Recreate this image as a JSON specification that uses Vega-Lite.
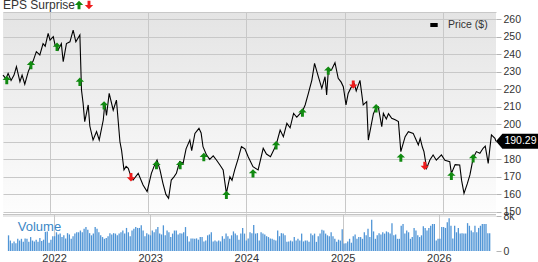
{
"$schema":"https://vega.github.io/schema/vega-lite/v6.json",
"padding":{"left":0,"top":0,"right":0,"bottom":0},
"background":"white",
"spacing":1,
"bounds":"flush",
"config":{"font":"Liberation Sans","view":{"stroke":null},
 "axis":{"labelFont":"Liberation Sans","labelColor":"#333333","labelFontSize":10.5,"gridColor":"#c8c8c8","tickColor":"#b4b4b4","title":null},
 "legend":{"labelFont":"Liberation Sans","titleFont":"Liberation Sans"}},
"resolve":{"scale":{"x":"independent","y":"independent"}},
"datasets":{
"price":[
{"d":"2021-07-10","p":228},{"d":"2021-07-21","p":226},{"d":"2021-07-29","p":229},{"d":"2021-08-09","p":225},{"d":"2021-08-20","p":228},{"d":"2021-08-29","p":232.8},{"d":"2021-09-11","p":224.3},{"d":"2021-09-19","p":228},{"d":"2021-09-29","p":222.8},{"d":"2021-10-12","p":230},{"d":"2021-10-22","p":233.8},{"d":"2021-10-30","p":236},{"d":"2021-11-11","p":241.4},{"d":"2021-11-24","p":239.5},{"d":"2021-12-06","p":246},{"d":"2021-12-14","p":244.5},{"d":"2021-12-25","p":251.8},
{"d":"2022-01-01","p":248},{"d":"2022-01-13","p":249.9},{"d":"2022-01-20","p":245},{"d":"2022-01-27","p":244.2},{"d":"2022-01-31","p":242.3},{"d":"2022-02-12","p":246},{"d":"2022-02-19","p":235.7},{"d":"2022-03-03","p":246},{"d":"2022-03-16","p":247},{"d":"2022-03-28","p":253.7},{"d":"2022-04-07","p":247},{"d":"2022-04-22","p":250.9},{"d":"2022-04-28","p":219.5},{"d":"2022-05-04","p":212},{"d":"2022-05-10","p":201.5},{"d":"2022-05-23","p":211},{"d":"2022-05-29","p":199},{"d":"2022-06-10","p":191},{"d":"2022-06-23","p":195.8},{"d":"2022-07-03","p":191},{"d":"2022-07-18","p":202.4},{"d":"2022-07-24","p":212},{"d":"2022-07-30","p":205},{"d":"2022-08-09","p":217.6},{"d":"2022-08-24","p":208},{"d":"2022-09-05","p":213.8},{"d":"2022-09-18","p":190},{"d":"2022-09-24","p":185.3},{"d":"2022-10-03","p":174},{"d":"2022-10-11","p":176},{"d":"2022-10-19","p":174.9},{"d":"2022-10-25","p":172},{"d":"2022-11-06","p":168.2},{"d":"2022-11-25","p":172},{"d":"2022-12-13","p":165.4},{"d":"2022-12-28","p":161.6},
{"d":"2023-01-13","p":172},{"d":"2023-01-23","p":176},{"d":"2023-02-03","p":179.6},{"d":"2023-02-14","p":174},{"d":"2023-02-25","p":166.3},{"d":"2023-03-08","p":160},{"d":"2023-03-18","p":157.8},{"d":"2023-03-28","p":168.2},{"d":"2023-04-07","p":170},{"d":"2023-04-16","p":172},{"d":"2023-04-28","p":178.7},{"d":"2023-05-11","p":177.7},{"d":"2023-05-22","p":186},{"d":"2023-06-05","p":191},{"d":"2023-06-12","p":185},{"d":"2023-06-24","p":194.8},{"d":"2023-07-09","p":197.7},{"d":"2023-07-17","p":195},{"d":"2023-07-24","p":187.2},{"d":"2023-08-06","p":182.5},{"d":"2023-08-18","p":180},{"d":"2023-08-31","p":182},{"d":"2023-09-12","p":179.6},{"d":"2023-09-25","p":176.8},{"d":"2023-10-07","p":174},{"d":"2023-10-19","p":160.6},{"d":"2023-11-01","p":170.1},{"d":"2023-11-09","p":168},{"d":"2023-11-19","p":174},{"d":"2023-12-01","p":180},{"d":"2023-12-14","p":187.2},{"d":"2023-12-27","p":186},
{"d":"2024-01-08","p":181.5},{"d":"2024-01-26","p":175.8},{"d":"2024-02-14","p":174},{"d":"2024-03-04","p":186.3},{"d":"2024-03-16","p":183},{"d":"2024-03-31","p":181.5},{"d":"2024-04-21","p":188.2},{"d":"2024-05-06","p":196.7},{"d":"2024-05-18","p":192.9},{"d":"2024-05-31","p":200.5},{"d":"2024-06-12","p":198},{"d":"2024-06-25","p":206.2},{"d":"2024-07-07","p":204},{"d":"2024-07-19","p":206},{"d":"2024-07-28","p":207.5},{"d":"2024-08-07","p":211},{"d":"2024-08-19","p":217.6},{"d":"2024-09-01","p":225.2},{"d":"2024-09-11","p":234.7},{"d":"2024-09-25","p":227.1},{"d":"2024-10-08","p":220.5},{"d":"2024-10-20","p":227.1},{"d":"2024-10-26","p":216.7},{"d":"2024-11-01","p":230},{"d":"2024-11-13","p":231},{"d":"2024-11-26","p":235.1},{"d":"2024-12-08","p":226.2},{"d":"2024-12-19","p":224},{"d":"2024-12-27","p":221.4},
{"d":"2025-01-06","p":211},{"d":"2025-01-14","p":217.6},{"d":"2025-01-25","p":221},{"d":"2025-02-06","p":223},{"d":"2025-02-13","p":219},{"d":"2025-02-27","p":225},{"d":"2025-03-11","p":211},{"d":"2025-03-24","p":212.9},{"d":"2025-03-30","p":191},{"d":"2025-04-11","p":200.5},{"d":"2025-04-18","p":206},{"d":"2025-04-28","p":209.5},{"d":"2025-05-06","p":210},{"d":"2025-05-19","p":198.6},{"d":"2025-05-25","p":206.2},{"d":"2025-06-05","p":203},{"d":"2025-06-13","p":206},{"d":"2025-06-25","p":203.4},{"d":"2025-07-08","p":202.5},{"d":"2025-07-20","p":201.5},{"d":"2025-07-29","p":184.4},{"d":"2025-08-14","p":192.9},{"d":"2025-08-26","p":195.8},{"d":"2025-09-13","p":194.8},{"d":"2025-09-24","p":191},{"d":"2025-10-02","p":188.2},{"d":"2025-10-09","p":192},{"d":"2025-10-17","p":187},{"d":"2025-10-23","p":184.4},{"d":"2025-11-02","p":174.9},{"d":"2025-11-14","p":179.6},{"d":"2025-11-26","p":182.5},{"d":"2025-12-08","p":179.5},{"d":"2025-12-27","p":182.5},
{"d":"2026-01-09","p":179.5},{"d":"2026-01-27","p":178.7},{"d":"2026-02-02","p":172},{"d":"2026-02-16","p":177},{"d":"2026-03-05","p":176.8},{"d":"2026-03-12","p":168},{"d":"2026-03-21","p":160.6},{"d":"2026-04-02","p":166},{"d":"2026-04-12","p":171.1},{"d":"2026-04-24","p":180.6},{"d":"2026-05-06","p":184.4},{"d":"2026-05-19","p":183.5},{"d":"2026-05-31","p":186.3},{"d":"2026-06-08","p":187.5},{"d":"2026-06-19","p":177.7},{"d":"2026-06-25","p":186},{"d":"2026-07-01","p":193.9},{"d":"2026-07-14","p":192},{"d":"2026-07-18","p":190.29}
],
"eps":[
{"d":"2021-07-24","p":225.2,"r":"beat"},{"d":"2021-10-22","p":233.8,"r":"beat"},{"d":"2022-01-27","p":244.2,"r":"beat"},{"d":"2022-04-22","p":224.2,"r":"beat"},{"d":"2022-07-21","p":210.8,"r":"beat"},{"d":"2022-10-29","p":169.8,"r":"miss"},{"d":"2023-02-01","p":176.8,"r":"beat"},{"d":"2023-04-30","p":176.8,"r":"beat"},{"d":"2023-07-27","p":181.3,"r":"beat"},{"d":"2023-10-19","p":159.7,"r":"beat"},{"d":"2024-01-26","p":172,"r":"beat"},{"d":"2024-04-21","p":188,"r":"beat"},{"d":"2024-07-28","p":206.7,"r":"beat"},{"d":"2024-11-01","p":230.6,"r":"beat"},{"d":"2025-02-02","p":222.6,"r":"miss"},{"d":"2025-04-28","p":209.1,"r":"beat"},{"d":"2025-07-29","p":181,"r":"beat"},{"d":"2025-10-26","p":176.3,"r":"miss"},{"d":"2026-02-02","p":170.6,"r":"beat"},{"d":"2026-04-24","p":180.6,"r":"beat"}
],
"vol":[
{"d":"2021-07-12","v":3600},{"d":"2021-07-19","v":2400},{"d":"2021-07-26","v":1800},{"d":"2021-08-02","v":2200},{"d":"2021-08-09","v":1800},{"d":"2021-08-16","v":2800},{"d":"2021-08-23","v":2400},{"d":"2021-08-30","v":2800},{"d":"2021-09-06","v":2100},{"d":"2021-09-13","v":2900},{"d":"2021-09-20","v":2800},{"d":"2021-09-27","v":2100},{"d":"2021-10-04","v":3200},{"d":"2021-10-11","v":2400},{"d":"2021-10-18","v":2200},{"d":"2021-10-25","v":2600},{"d":"2021-11-01","v":2100},{"d":"2021-11-08","v":3000},{"d":"2021-11-15","v":2300},{"d":"2021-11-22","v":2600},{"d":"2021-11-29","v":4400},{"d":"2021-12-06","v":4500},{"d":"2021-12-13","v":1900},{"d":"2021-12-20","v":2600},{"d":"2021-12-27","v":3400},
{"d":"2022-01-03","v":3400},{"d":"2022-01-10","v":4300},{"d":"2022-01-17","v":3800},{"d":"2022-01-24","v":4000},{"d":"2022-01-31","v":3200},{"d":"2022-02-07","v":3600},{"d":"2022-02-14","v":2900},{"d":"2022-02-21","v":4100},{"d":"2022-02-28","v":3800},{"d":"2022-03-07","v":2800},{"d":"2022-03-14","v":3400},{"d":"2022-03-21","v":4000},{"d":"2022-03-28","v":4300},{"d":"2022-04-04","v":4300},{"d":"2022-04-11","v":4700},{"d":"2022-04-18","v":4300},{"d":"2022-04-25","v":5100},{"d":"2022-05-02","v":5500},{"d":"2022-05-09","v":4900},{"d":"2022-05-16","v":4100},{"d":"2022-05-23","v":3600},{"d":"2022-05-30","v":4000},{"d":"2022-06-06","v":5500},{"d":"2022-06-13","v":5100},{"d":"2022-06-20","v":4300},{"d":"2022-06-27","v":3600},{"d":"2022-07-04","v":3200},{"d":"2022-07-11","v":2800},{"d":"2022-07-18","v":3000},{"d":"2022-07-25","v":3400},{"d":"2022-08-01","v":4100},{"d":"2022-08-08","v":3800},{"d":"2022-08-15","v":4100},{"d":"2022-08-22","v":4000},{"d":"2022-08-29","v":3600},{"d":"2022-09-05","v":4000},{"d":"2022-09-12","v":4300},{"d":"2022-09-19","v":4700},{"d":"2022-09-26","v":4000},{"d":"2022-10-03","v":5300},{"d":"2022-10-10","v":4300},{"d":"2022-10-17","v":3400},{"d":"2022-10-24","v":4700},{"d":"2022-10-31","v":5100},{"d":"2022-11-07","v":5500},{"d":"2022-11-14","v":5300},{"d":"2022-11-21","v":5300},{"d":"2022-11-28","v":5900},{"d":"2022-12-05","v":4700},{"d":"2022-12-12","v":3400},{"d":"2022-12-19","v":4100},{"d":"2022-12-26","v":3800},
{"d":"2023-01-02","v":3600},{"d":"2023-01-09","v":4700},{"d":"2023-01-16","v":4300},{"d":"2023-01-23","v":5000},{"d":"2023-01-30","v":5500},{"d":"2023-02-06","v":4000},{"d":"2023-02-13","v":3800},{"d":"2023-02-20","v":5900},{"d":"2023-02-27","v":3600},{"d":"2023-03-06","v":4700},{"d":"2023-03-13","v":4300},{"d":"2023-03-20","v":3200},{"d":"2023-03-27","v":4000},{"d":"2023-04-03","v":4700},{"d":"2023-04-10","v":4700},{"d":"2023-04-17","v":3800},{"d":"2023-04-24","v":4100},{"d":"2023-05-01","v":4000},{"d":"2023-05-08","v":4300},{"d":"2023-05-15","v":5500},{"d":"2023-05-22","v":3400},{"d":"2023-05-29","v":2200},{"d":"2023-06-05","v":2900},{"d":"2023-06-12","v":2900},{"d":"2023-06-19","v":2800},{"d":"2023-06-26","v":2900},{"d":"2023-07-03","v":2600},{"d":"2023-07-10","v":3200},{"d":"2023-07-17","v":3200},{"d":"2023-07-24","v":2200},{"d":"2023-07-31","v":2400},{"d":"2023-08-07","v":3600},{"d":"2023-08-14","v":3800},{"d":"2023-08-21","v":4300},{"d":"2023-08-28","v":2200},{"d":"2023-09-04","v":2400},{"d":"2023-09-11","v":2200},{"d":"2023-09-18","v":2400},{"d":"2023-09-25","v":2200},{"d":"2023-10-02","v":3400},{"d":"2023-10-09","v":2800},{"d":"2023-10-16","v":4000},{"d":"2023-10-23","v":3400},{"d":"2023-10-30","v":2800},{"d":"2023-11-06","v":3600},{"d":"2023-11-13","v":4500},{"d":"2023-11-20","v":4000},{"d":"2023-11-27","v":3600},{"d":"2023-12-04","v":2600},{"d":"2023-12-11","v":4000},{"d":"2023-12-18","v":5300},{"d":"2023-12-25","v":4000},
{"d":"2024-01-01","v":2400},{"d":"2024-01-08","v":2900},{"d":"2024-01-15","v":4300},{"d":"2024-01-22","v":4100},{"d":"2024-01-29","v":6000},{"d":"2024-02-05","v":4000},{"d":"2024-02-12","v":4100},{"d":"2024-02-19","v":2400},{"d":"2024-02-26","v":4300},{"d":"2024-03-04","v":4000},{"d":"2024-03-11","v":3800},{"d":"2024-03-18","v":3400},{"d":"2024-03-25","v":3200},{"d":"2024-04-01","v":2900},{"d":"2024-04-08","v":2800},{"d":"2024-04-15","v":2600},{"d":"2024-04-22","v":2400},{"d":"2024-04-29","v":4700},{"d":"2024-05-06","v":3400},{"d":"2024-05-13","v":4100},{"d":"2024-05-20","v":4000},{"d":"2024-05-27","v":3600},{"d":"2024-06-03","v":2100},{"d":"2024-06-10","v":2200},{"d":"2024-06-17","v":2400},{"d":"2024-06-24","v":2200},{"d":"2024-07-01","v":3200},{"d":"2024-07-08","v":2400},{"d":"2024-07-15","v":2800},{"d":"2024-07-22","v":2400},{"d":"2024-07-29","v":4000},{"d":"2024-08-05","v":2200},{"d":"2024-08-12","v":2400},{"d":"2024-08-19","v":2400},{"d":"2024-08-26","v":2100},{"d":"2024-09-02","v":4000},{"d":"2024-09-09","v":3600},{"d":"2024-09-16","v":4000},{"d":"2024-09-23","v":2100},{"d":"2024-09-30","v":3400},{"d":"2024-10-07","v":4000},{"d":"2024-10-14","v":4900},{"d":"2024-10-21","v":4700},{"d":"2024-10-28","v":4000},{"d":"2024-11-04","v":3600},{"d":"2024-11-11","v":3400},{"d":"2024-11-18","v":4300},{"d":"2024-11-25","v":3400},{"d":"2024-12-02","v":2800},{"d":"2024-12-09","v":2100},{"d":"2024-12-16","v":2600},{"d":"2024-12-23","v":2400},{"d":"2024-12-30","v":5000},
{"d":"2025-01-06","v":1700},{"d":"2025-01-13","v":1800},{"d":"2025-01-20","v":2200},{"d":"2025-01-27","v":2800},{"d":"2025-02-03","v":1900},{"d":"2025-02-10","v":3400},{"d":"2025-02-17","v":3800},{"d":"2025-02-24","v":2800},{"d":"2025-03-03","v":3200},{"d":"2025-03-10","v":3200},{"d":"2025-03-17","v":2800},{"d":"2025-03-24","v":4300},{"d":"2025-03-31","v":3600},{"d":"2025-04-07","v":5100},{"d":"2025-04-14","v":3200},{"d":"2025-04-21","v":7200},{"d":"2025-04-28","v":4500},{"d":"2025-05-05","v":2800},{"d":"2025-05-12","v":3600},{"d":"2025-05-19","v":4100},{"d":"2025-05-26","v":3800},{"d":"2025-06-02","v":4300},{"d":"2025-06-09","v":4000},{"d":"2025-06-16","v":4500},{"d":"2025-06-23","v":4300},{"d":"2025-06-30","v":4000},{"d":"2025-07-07","v":6400},{"d":"2025-07-14","v":3600},{"d":"2025-07-21","v":3800},{"d":"2025-07-28","v":2800},{"d":"2025-08-04","v":2800},{"d":"2025-08-11","v":5800},{"d":"2025-08-18","v":6200},{"d":"2025-08-25","v":4000},{"d":"2025-09-01","v":4700},{"d":"2025-09-08","v":4300},{"d":"2025-09-15","v":2800},{"d":"2025-09-22","v":3200},{"d":"2025-09-29","v":5300},{"d":"2025-10-06","v":4700},{"d":"2025-10-13","v":3600},{"d":"2025-10-20","v":3200},{"d":"2025-10-27","v":3600},{"d":"2025-11-03","v":5700},{"d":"2025-11-10","v":5300},{"d":"2025-11-17","v":4700},{"d":"2025-11-24","v":5300},{"d":"2025-12-01","v":5800},{"d":"2025-12-08","v":6200},{"d":"2025-12-15","v":6200},{"d":"2025-12-22","v":2400},{"d":"2025-12-29","v":2800},
{"d":"2026-01-05","v":2800},{"d":"2026-01-12","v":5500},{"d":"2026-01-19","v":5500},{"d":"2026-01-26","v":5300},{"d":"2026-02-02","v":6600},{"d":"2026-02-09","v":7500},{"d":"2026-02-16","v":5800},{"d":"2026-02-23","v":2900},{"d":"2026-03-02","v":5800},{"d":"2026-03-09","v":4300},{"d":"2026-03-16","v":5300},{"d":"2026-03-23","v":4000},{"d":"2026-03-30","v":4100},{"d":"2026-04-06","v":4000},{"d":"2026-04-13","v":4000},{"d":"2026-04-20","v":6400},{"d":"2026-04-27","v":5800},{"d":"2026-05-04","v":4700},{"d":"2026-05-11","v":4300},{"d":"2026-05-18","v":5800},{"d":"2026-05-25","v":4300},{"d":"2026-06-01","v":5300},{"d":"2026-06-08","v":5800},{"d":"2026-06-15","v":6200},{"d":"2026-06-22","v":6200},{"d":"2026-06-29","v":6200},{"d":"2026-07-06","v":4100},{"d":"2026-07-13","v":4100}
]
},
"vconcat":[
{
 "width":493,"height":201,
 "view":{"stroke":null,"fill":{"gradient":"linear","x1":0,"y1":0,"x2":0,"y2":1,"stops":[{"offset":0,"color":"#e4e4e4"},{"offset":1,"color":"#fdfdfd"}]}},
 "encoding":{
  "x":{"field":"d","type":"temporal","scale":{"domain":[{"year":2021,"month":7,"date":10},{"year":2026,"month":7,"date":18}]},
   "axis":{"orient":"top","values":[{"year":2022,"month":1,"date":1},{"year":2023,"month":1,"date":1},{"year":2024,"month":1,"date":1},{"year":2025,"month":1,"date":1},{"year":2026,"month":1,"date":1}],"grid":true,"labels":false,"ticks":false,"domain":true,"domainColor":"#c8c8c8"}},
  "y":{"field":"p","type":"quantitative","scale":{"domain":[149.4,264],"nice":false,"zero":false},
   "axis":{"orient":"right","values":[150,160,170,180,190,200,210,220,230,240,250,260],"grid":true,"domain":false,"tickSize":5,"labelPadding":2,"labelOverlap":false}}
 },
 "layer":[
  {"data":{"name":"price"},"mark":{"type":"line","strokeWidth":1.1,"color":"#000000","strokeCap":"butt"},
   "encoding":{"stroke":{"datum":"Price ($)","type":"nominal","scale":{"range":["#000000"]},
     "legend":{"title":null,"orient":"none","legendX":425,"legendY":7,"padding":0,"symbolType":"stroke","symbolSize":55,"symbolStrokeWidth":4,"symbolStrokeColor":"#000000","labelFontSize":10.5,"labelColor":"#333333","labelOffset":8}}}},
  {"data":{"name":"eps"},"mark":{"type":"point","filled":true,"opacity":1,"size":70},
   "encoding":{
    "fill":{"field":"r","type":"nominal","scale":{"domain":["beat","miss"],"range":["#118a11","#ee1c1c"]},
      "legend":{"title":"EPS Surprise","orient":"none","legendX":0,"legendY":-12,"direction":"horizontal","titleOrient":"left","titleFontSize":12,"titleFontWeight":"normal","titleColor":"#333333","titlePadding":-2,"labelExpr":"''","labelOffset":0,"columnPadding":-1,"symbolSize":70,"padding":0,"symbolStrokeWidth":0}},
    "shape":{"field":"r","type":"nominal","scale":{"domain":["beat","miss"],"range":["M0,-1L1,0L0.35,0L0.35,1L-0.35,1L-0.35,0L-1,0Z","M0,1L1,0L0.35,0L0.35,-1L-0.35,-1L-0.35,0L-1,0Z"]},
      "legend":{"title":"EPS Surprise","orient":"none","legendX":0,"legendY":-12,"direction":"horizontal","titleOrient":"left","titleFontSize":12,"titleFontWeight":"normal","titleColor":"#333333","titlePadding":-2,"labelExpr":"''","labelOffset":0,"columnPadding":-1,"symbolSize":70,"padding":0,"symbolStrokeWidth":0}}
   }},
  {"data":{"name":"price"},"transform":[{"filter":"datum.p == 190.29"}],
   "mark":{"type":"point","filled":true,"opacity":1,"color":"#000000","size":1936,"shape":"M0,0L0.29,-0.34L2,-0.34L2,0.34L0.29,0.34Z"}},
  {"data":{"name":"price"},"transform":[{"filter":"datum.p == 190.29"}],
   "mark":{"type":"text","dx":24.5,"align":"center","baseline":"middle","color":"#ffffff","fontSize":10.5},
   "encoding":{"text":{"field":"p","type":"quantitative","format":".2f"}}}
 ]
},
{
 "width":493,"height":37,
 "view":{"stroke":null,"fill":{"gradient":"linear","x1":0,"y1":0,"x2":0,"y2":1,"stops":[{"offset":0,"color":"#c4c4c4"},{"offset":0.03,"color":"#c4c4c4"},{"offset":0.031,"color":"#e8e8e8"},{"offset":0.07,"color":"#e8e8e8"},{"offset":0.071,"color":"#ffffff"},{"offset":1,"color":"#ffffff"}]}},
 "layer":[
  {"data":{"name":"vol"},"mark":{"type":"bar","width":1.3,"color":"#5095d6"},
   "encoding":{
    "x":{"field":"d","type":"temporal","scale":{"domain":[{"year":2021,"month":7,"date":10},{"year":2026,"month":7,"date":18}]},
     "axis":{"orient":"bottom","values":[{"year":2022,"month":1,"date":1},{"year":2023,"month":1,"date":1},{"year":2024,"month":1,"date":1},{"year":2025,"month":1,"date":1},{"year":2026,"month":1,"date":1}],"format":"%Y","grid":true,"ticks":false,"domain":false,"labelFontSize":11,"labelPadding":1,"labelFlush":false,"labelOverlap":false}},
    "y":{"field":"v","type":"quantitative","scale":{"domain":[0,8500],"nice":false},
     "axis":{"orient":"right","values":[0,2000,4000,6000,8000],"labelExpr":"datum.value == 0 ? '0' : (datum.value/1000) + 'k'","grid":false,"domain":false,"tickSize":5,"labelPadding":2,"labelOverlap":false}}
   }},
  {"data":{"values":[{}]},"mark":{"type":"text","text":"Volume","align":"left","baseline":"middle","fontSize":13,"color":"#3b87c6"},
   "encoding":{"x":{"datum":{"year":2021,"month":8,"date":16},"type":"temporal"},"y":{"datum":5600,"type":"quantitative"}}}
 ]
}
]
}
